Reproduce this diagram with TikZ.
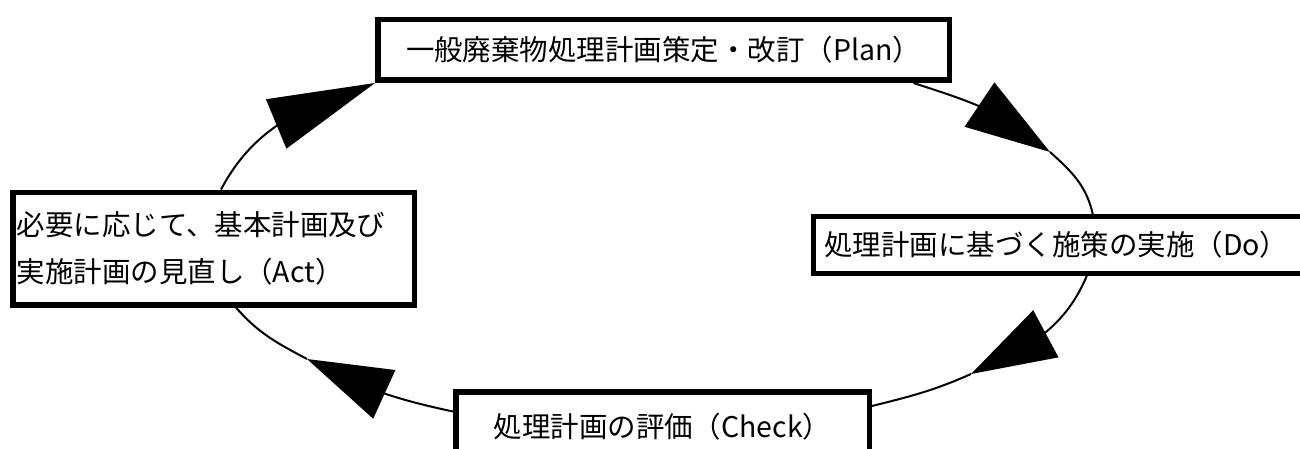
\documentclass[tikz,border=0pt]{standalone}
\usepackage{fontspec}
\setmainfont{Noto Sans CJK JP}
\usetikzlibrary{arrows.meta,bending}

\begin{document}
\begin{tikzpicture}[
        box/.style = {draw, line width = 0.11cm, fill = white, inner sep = 0pt, font = \fontsize{16.2pt}{26.7pt}\selectfont},
        link/.style = {line width = 0.04cm},
        head/.style = {-{Triangle[length = #1, width = 1.06cm, flex]}},
        head/.default = 1.7cm
    ]
        \clip (0,0) rectangle (26,-8.98);

        \node[box, minimum width = 11.43cm, minimum height = 1.21cm] (plan) at (13.27,-1.0) {一般廃棄物処理計画策定・改訂（Plan）};
        \node[box, anchor = west, text width = 10.2cm, align = left, inner xsep = 0.22cm, minimum height = 1.13cm] (do) at (16.215,-4.9) {処理計画に基づく施策の実施（Do）};
        \node[box, minimum width = 8.27cm, minimum height = 1.4cm] (check) at (13.25,-8.54) {処理計画の評価（Check）};
        \node[box, text width = 7.87cm, align = left, inner xsep = 0.08cm, minimum height = 2.25cm] (act) at (4.27,-4.97) {必要に応じて、基本計画及び\\実施計画の見直し（Act）};

        \coordinate (tipdo) at (21.0,-3.04);
        \coordinate (tipcheck) at (19.42,-7.48);
        \coordinate (tipact) at (6.14,-7.18);

        \draw[link, head = 2.14cm] ([xshift = 0.15cm]act.north) to[out = 62, in = 198] (plan.south west);

        \draw[link, head] ([xshift = 5.0cm]plan.south) to[out = -18, in = 138] (tipdo);
        \draw[link] (tipdo) to[out = -42, in = 103] ([xshift = 5.64cm]do.north west);

        \draw[link, head] ([xshift = 5.52cm]do.south west) to[out = 247, in = 24] (tipcheck);
        \draw[link] (tipcheck) to[out = 204, in = 14] ([yshift = 0.42cm]check.east);

        \draw[link, head] ([yshift = 0.31cm]check.west) to[out = 168, in = -28] (tipact);
        \draw[link] (tipact) to[out = 152, in = -49] ([xshift = 0.45cm]act.south);
\end{tikzpicture}
\end{document}
